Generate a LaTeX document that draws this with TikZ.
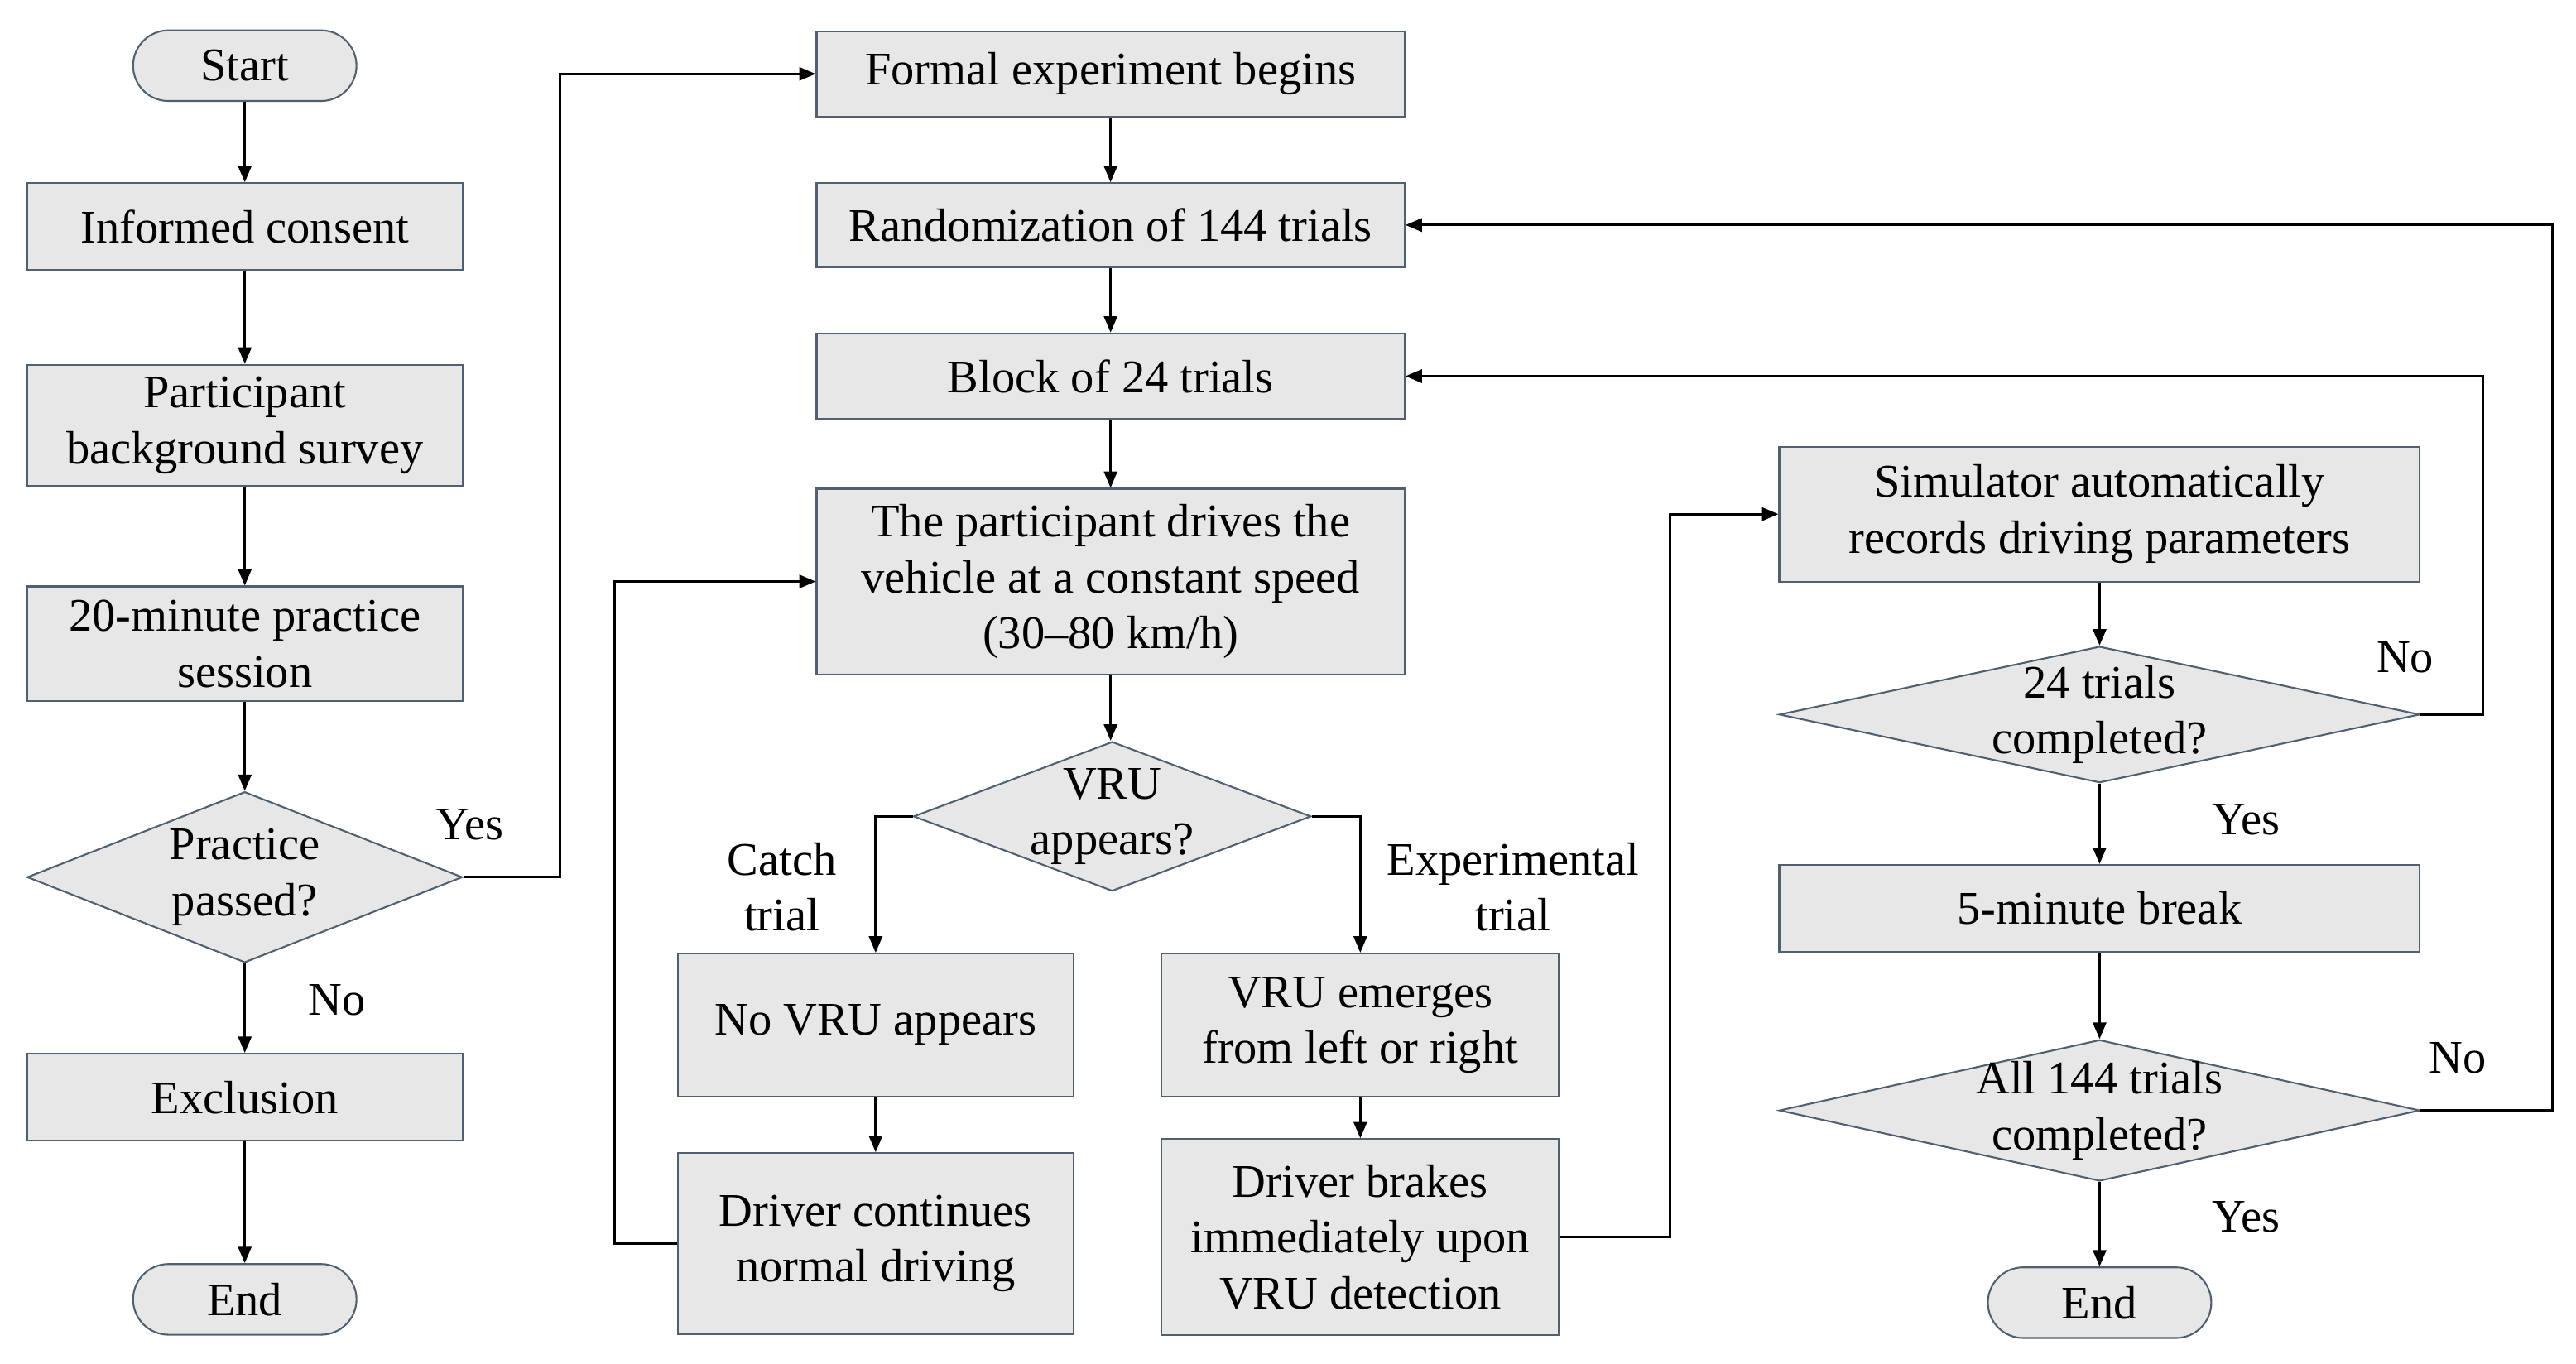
\documentclass[tikz,border=0pt]{standalone}
\usepackage{fontspec}
\setmainfont{Liberation Serif}
\usepackage{tikz}
\usetikzlibrary{arrows.meta,positioning,shapes.geometric,calc}
\definecolor{boxgray}{RGB}{231,231,231}
\definecolor{edgeslate}{RGB}{80,96,112}

\begin{document}
\begin{tikzpicture}[x=0.02cm,y=-0.02cm,>={Triangle[length=0.2cm,width=0.16cm]},
  every node/.style={font=\fontsize{16.2}{19.4}\selectfont},
  proc/.style={draw=edgeslate,fill=boxgray,line width=0.6pt,align=center,inner sep=0pt},
  term/.style={proc,rounded corners=0.43cm,minimum width=2.72cm,minimum height=0.86cm},
  decide/.style={proc,diamond,inner xsep=-0.5cm,inner ysep=-0.3cm,aspect=2.5},
  flow/.style={->,line width=0.9pt}]
\useasboundingbox (0,0) rectangle (1568,830);
\node[term] (start) at (149,40) {Start};
\node[proc,minimum width=5.3cm,minimum height=1.06cm] (consent) at (149,138) {Informed consent};
\node[proc,minimum width=5.3cm,minimum height=1.48cm] (survey) at (149,259) {Participant\\background survey};
\node[proc,minimum width=5.3cm,minimum height=1.4cm] (practice) at (149,392) {20-minute practice\\session};
\node[decide,minimum width=5.3cm,minimum height=2.08cm] (passed) at (149,534) {Practice\\passed?};
\node[proc,minimum width=5.3cm,minimum height=1.06cm] (exclusion) at (149,668) {Exclusion};
\node[term] (endA) at (149,791) {End};

\node[proc,minimum width=7.16cm,minimum height=1.04cm] (formal) at (676,45) {Formal experiment begins};
\node[proc,minimum width=7.16cm,minimum height=1.02cm] (random) at (676,137) {Randomization of 144 trials};
\node[proc,minimum width=7.16cm,minimum height=1.04cm] (block) at (676,229) {Block of 24 trials};
\node[proc,minimum width=7.16cm,minimum height=2.26cm] (drive) at (676,354) {The participant drives the\\vehicle at a constant speed\\(30--80 km/h)};
\node[decide,minimum width=4.84cm,minimum height=1.82cm] (vru) at (677,497) {VRU\\appears?};
\node[proc,minimum width=4.82cm,minimum height=1.74cm] (novru) at (533,624) {No VRU appears};
\node[proc,minimum width=4.82cm,minimum height=2.2cm] (cont) at (533,757) {Driver continues\\normal driving};
\node[proc,minimum width=4.84cm,minimum height=1.74cm] (emerge) at (828,624) {VRU emerges\\from left or right};
\node[proc,minimum width=4.84cm,minimum height=2.38cm] (brake) at (828,753) {Driver brakes\\immediately upon\\VRU detection};

\node[proc,minimum width=7.8cm,minimum height=1.64cm] (sim) at (1278,313) {Simulator automatically\\records driving parameters};
\node[decide,minimum width=7.8cm,minimum height=1.66cm] (check24) at (1278,435) {24 trials\\completed?};
\node[proc,minimum width=7.8cm,minimum height=1.06cm] (pause) at (1278,553) {5-minute break};
\node[decide,minimum width=7.8cm,minimum height=1.72cm] (check144) at (1278,676) {All 144 trials\\completed?};
\node[term] (endB) at (1278,793) {End};

\node (yesA) at (286,502) {Yes};
\node (noA) at (205,609) {No};
\node[align=center] (catch) at (476,540) {Catch\\trial};
\node[align=center] (exper) at (921,540) {Experimental\\trial};
\node (noB) at (1464,400) {No};
\node (yesB) at (1367,499) {Yes};
\node (noC) at (1496,644) {No};
\node (yesC) at (1367,741) {Yes};

\draw[flow] (start) -- (consent);
\draw[flow] (consent) -- (survey);
\draw[flow] (survey) -- (practice);
\draw[flow] (practice) -- (passed);
\draw[flow] (passed) -- (exclusion);
\draw[flow] (exclusion) -- (endA);
\draw[flow] (passed.east) -- ++(59,0) |- (formal.west);
\draw[flow] (formal) -- (random);
\draw[flow] (random) -- (block);
\draw[flow] (block) -- (drive);
\draw[flow] (drive.south) -- (drive.south |- vru.north);
\draw[flow] (vru.west) -| (novru.north);
\draw[flow] (vru.east) -| (emerge.north);
\draw[flow] (novru) -- (cont);
\draw[flow] (emerge) -- (brake);
\draw[flow] (cont.west) -- ++(-38,0) |- (drive.west);
\draw[flow] (brake.east) -- ++(67,0) |- (sim.west);
\draw[flow] (sim) -- (check24);
\draw[flow] (check24) -- (pause);
\draw[flow] (pause) -- (check144);
\draw[flow] (check144) -- (endB);
\draw[flow] (check24.east) -- ++(38,0) |- (block.east);
\draw[flow] (check144.east) -- ++(80,0) |- (random.east);
\end{tikzpicture}
\end{document}
